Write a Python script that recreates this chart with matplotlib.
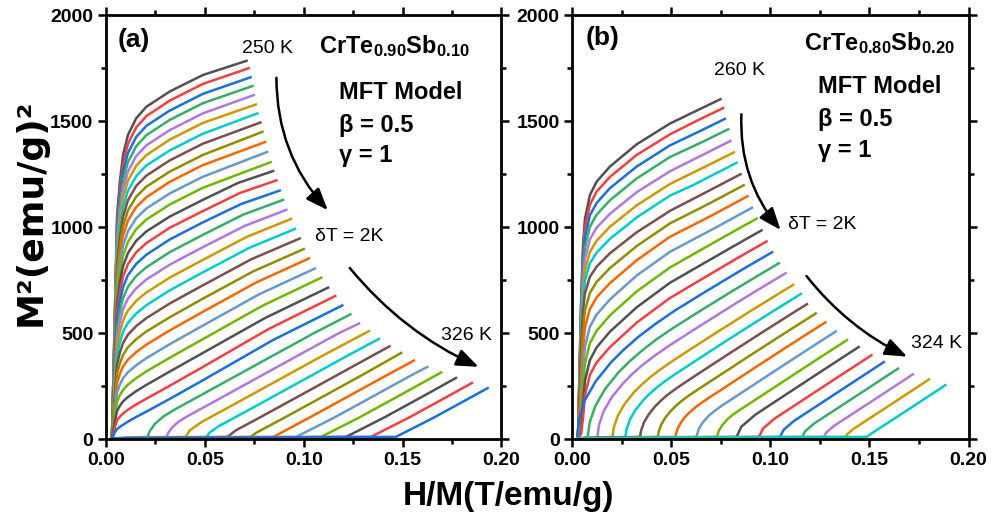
import matplotlib
matplotlib.use("Agg")
import matplotlib.pyplot as plt
from matplotlib.patches import FancyArrowPatch
from matplotlib.ticker import MultipleLocator, FormatStrFormatter

FONT = "Liberation Sans"
plt.rcParams["font.family"] = [FONT, "DejaVu Sans"]
plt.rcParams["mathtext.fontset"] = "custom"
plt.rcParams["mathtext.rm"] = FONT
plt.rcParams["mathtext.bf"] = FONT + ":bold"

# Origin default colour cycle
COLORS = ["#515151", "#F14040", "#1A6FDF", "#37AD6B", "#B177DE", "#CC9900",
          "#00CBCC", "#7D4E4E", "#8E8E00", "#FB6501", "#6699CC", "#6FB802"]

# ---------------- panel (a): CrTe0.90Sb0.10, 250 K ... 326 K ----------------
# low-field part of the ferromagnetic isotherms (shared H/M positions)
A_KNEE_X = [0.003, 0.0045, 0.0056, 0.007, 0.0086, 0.0111, 0.0153, 0.0204, 0.0322]
a_knee_y = [
    [0, 599, 1050, 1212, 1338, 1434, 1513, 1567, 1639],
    [0, 582, 1019, 1176, 1297, 1392, 1470, 1523, 1596],
    [0, 564, 987, 1139, 1257, 1349, 1425, 1477, 1549],
    [0, 547, 955, 1103, 1218, 1306, 1381, 1433, 1505],
    [0, 528, 922, 1065, 1176, 1261, 1335, 1385, 1457],
    [0, 509, 890, 1027, 1135, 1218, 1289, 1339, 1412],
    [0, 490, 855, 988, 1091, 1171, 1240, 1290, 1361],
    [0, 471, 821, 949, 1047, 1126, 1194, 1242, 1314],
    [0, 451, 786, 908, 1002, 1078, 1143, 1190, 1261],
    [0, 431, 750, 867, 958, 1030, 1094, 1140, 1213],
    [0, 410, 713, 824, 911, 980, 1041, 1087, 1158],
    [0, 388, 675, 781, 863, 929, 990, 1035, 1106],
    [0, 366, 636, 737, 814, 877, 935, 979, 1049],
    [0, 345, 598, 692, 765, 825, 881, 924, 996],
    [0, 323, 558, 646, 716, 773, 826, 869, 941],
    [0, 300, 518, 600, 664, 718, 769, 810, 881],
    [0, 276, 477, 552, 612, 662, 711, 752, 822],
    [0, 253, 435, 504, 559, 606, 652, 691, 761],
    [0, 229, 392, 455, 505, 548, 592, 631, 701],
    [0, 205, 350, 407, 452, 492, 533, 570, 639],
    [0, 180, 307, 356, 396, 433, 471, 507, 574],
    [0, 156, 264, 306, 342, 374, 410, 445, 512],
    [0, 131, 220, 256, 286, 315, 348, 381, 447],
    [0, 107, 177, 206, 231, 257, 287, 319, 383],
    [0, 82, 133, 156, 177, 198, 226, 255, 318],
    [0, 56, 89, 105, 120, 138, 163, 190, 251],
    [0, 33, 47, 57, 67, 82, 104, 129, 189],
]
# high-field part (ferro) / whole curve (para)
a_tail_x = [
    [0.049, 0.0711],
    [0.049, 0.0722],
    [0.049, 0.0731],
    [0.049, 0.0741],
    [0.049, 0.0747],
    [0.049, 0.0758],
    [0.049, 0.0766],
    [0.049, 0.0781],
    [0.049, 0.0791],
    [0.049, 0.0805],
    [0.049, 0.0815],
    [0.049, 0.0833],
    [0.049, 0.0668, 0.0845],
    [0.049, 0.0676, 0.0862],
    [0.049, 0.0685, 0.0879],
    [0.049, 0.0693, 0.0896],
    [0.049, 0.0701, 0.0912],
    [0.049, 0.0713, 0.0936],
    [0.049, 0.0723, 0.0956],
    [0.049, 0.0735, 0.0980],
    [0.049, 0.0745, 0.1000],
    [0.049, 0.0759, 0.1027],
    [0.049, 0.0773, 0.1056],
    [0.049, 0.0790, 0.1089],
    [0.049, 0.0807, 0.1123],
    [0.049, 0.0825, 0.1160],
    [0.049, 0.0843, 0.1195],
    [0.003, 0.0211, 0.0220, 0.0246, 0.0290, 0.0351, 0.0467, 0.0662, 0.0857, 0.1053, 0.1236],
    [0.003, 0.0307, 0.0314, 0.0335, 0.0369, 0.0417, 0.0593, 0.0788, 0.0983, 0.1179, 0.1280],
    [0.003, 0.0403, 0.0423, 0.0483, 0.0719, 0.0914, 0.1109, 0.1330],
    [0.003, 0.0509, 0.0524, 0.0569, 0.0649, 0.0845, 0.1040, 0.1235, 0.1380],
    [0.003, 0.0615, 0.0655, 0.0775, 0.0971, 0.1166, 0.1361, 0.1434],
    [0.003, 0.0731, 0.0761, 0.0901, 0.1097, 0.1292, 0.1493],
    [0.003, 0.0847, 0.0867, 0.1027, 0.1223, 0.1418, 0.1557],
    [0.003, 0.0962, 0.1152, 0.1348, 0.1543, 0.1625],
    [0.003, 0.1088, 0.1278, 0.1474, 0.1695],
    [0.003, 0.1214, 0.1404, 0.1600, 0.1770],
    [0.003, 0.1340, 0.1530, 0.1726, 0.1850],
    [0.003, 0.1466, 0.1656, 0.1852, 0.1930],
]
a_tail_y = [
    [1717, 1784],
    [1675, 1749],
    [1628, 1706],
    [1584, 1665],
    [1536, 1622],
    [1491, 1578],
    [1440, 1536],
    [1393, 1493],
    [1340, 1449],
    [1292, 1401],
    [1237, 1354],
    [1185, 1306],
    [1128, 1208, 1264],
    [1075, 1160, 1220],
    [1022, 1109, 1172],
    [963, 1058, 1128],
    [905, 1005, 1081],
    [845, 954, 1038],
    [786, 901, 991],
    [725, 848, 946],
    [662, 791, 896],
    [600, 738, 852],
    [535, 682, 804],
    [471, 628, 761],
    [406, 572, 714],
    [340, 520, 675],
    [277, 466, 630],
    [3, 10, 35, 70, 106, 141, 200, 300, 400, 500, 588],
    [3, 10, 28, 55, 83, 110, 200, 300, 400, 500, 545],
    [3, 10, 40, 80, 200, 300, 400, 509],
    [3, 10, 30, 60, 100, 200, 300, 400, 472],
    [3, 10, 40, 100, 200, 300, 400, 437],
    [3, 10, 30, 100, 200, 300, 406],
    [3, 10, 20, 100, 200, 300, 370],
    [3, 10, 100, 200, 300, 340],
    [3, 10, 100, 200, 314],
    [3, 10, 100, 200, 288],
    [3, 10, 100, 200, 264],
    [3, 10, 100, 200, 240],
]

# ---------------- panel (b): CrTe0.80Sb0.20, 260 K ... ----------------
B_KNEE_X = [0.003, 0.0045, 0.0055, 0.0065, 0.009, 0.0124, 0.0191, 0.0326, 0.0494]
b_knee_y = [
    [0, 625, 906, 1039, 1150, 1214, 1285, 1390, 1488],
    [0, 601, 870, 998, 1105, 1167, 1236, 1340, 1437],
    [0, 572, 829, 951, 1055, 1113, 1183, 1285, 1385],
    [0, 543, 787, 902, 1001, 1058, 1126, 1229, 1330],
    [0, 511, 740, 849, 942, 997, 1062, 1164, 1263],
    [0, 479, 693, 794, 882, 935, 1001, 1102, 1203],
    [0, 449, 650, 745, 829, 879, 944, 1045, 1148],
    [0, 414, 599, 687, 765, 813, 876, 975, 1076],
    [0, 305, 507, 604, 689, 741, 806, 910, 1017],
    [0, 209, 422, 525, 613, 668, 735, 843, 954],
    [0, 96, 326, 434, 529, 587, 658, 771, 883],
    [0, 27, 242, 354, 452, 510, 583, 696, 809],
    [0, 27, 158, 273, 372, 432, 506, 621, 737],
    [0, 27, 93, 205, 302, 361, 433, 549, 665],
]
b_tail_x = [
    [0.0631, 0.0749],
    [0.0627, 0.0762],
    [0.0640, 0.0771],
    [0.0655, 0.0788],
    [0.0680, 0.0799],
    [0.0705, 0.0816],
    [0.0616, 0.0830],
    [0.0647, 0.0850],
    [0.0670, 0.0866],
    [0.0696, 0.0885],
    [0.0730, 0.0908],
    [0.0665, 0.0855, 0.0931],
    [0.0704, 0.0891, 0.0956],
    [0.0647, 0.0828, 0.0981],
    [0.0025, 0.0035, 0.0064, 0.0120, 0.0199, 0.0264, 0.0339, 0.0424, 0.0519, 0.0682, 0.0860, 0.1009],
    [0.003, 0.0079, 0.0089, 0.0118, 0.0166, 0.0234, 0.0290, 0.0354, 0.0427, 0.0509, 0.0639, 0.0812, 0.1043],
    [0.003, 0.0128, 0.0136, 0.0160, 0.0201, 0.0258, 0.0304, 0.0358, 0.0420, 0.0488, 0.0589, 0.0758, 0.0931, 0.1077],
    [0.003, 0.0204, 0.0211, 0.0231, 0.0265, 0.0312, 0.0351, 0.0396, 0.0447, 0.0504, 0.0559, 0.0725, 0.0894, 0.1115],
    [0.003, 0.0269, 0.0275, 0.0292, 0.0320, 0.0359, 0.0392, 0.0429, 0.0472, 0.0519, 0.0674, 0.0840, 0.1009, 0.1154],
    [0.003, 0.0343, 0.0348, 0.0362, 0.0386, 0.0419, 0.0446, 0.0477, 0.0513, 0.0553, 0.0624, 0.0788, 0.0954, 0.1123, 0.1185],
    [0.003, 0.0433, 0.0437, 0.0449, 0.0469, 0.0498, 0.0521, 0.0548, 0.0579, 0.0613, 0.0744, 0.0908, 0.1074, 0.1229],
    [0.003, 0.0522, 0.0525, 0.0536, 0.0552, 0.0576, 0.0596, 0.0618, 0.0644, 0.0672, 0.0863, 0.1027, 0.1193, 0.1278],
    [0.003, 0.0627, 0.0639, 0.0660, 0.0691, 0.0721, 0.0757, 0.0907, 0.1070, 0.1235, 0.1330],
    [0.003, 0.0731, 0.0741, 0.0759, 0.0785, 0.0810, 0.0841, 0.1031, 0.1194, 0.1387],
    [0.003, 0.0830, 0.0854, 0.0925, 0.1063, 0.1226, 0.1390, 0.1446],
    [0.003, 0.0943, 0.0963, 0.1023, 0.1191, 0.1354, 0.1510],
    [0.003, 0.1049, 0.1067, 0.1119, 0.1307, 0.1470, 0.1573],
    [0.003, 0.1161, 0.1176, 0.1221, 0.1429, 0.1592, 0.1644],
    [0.003, 0.1270, 0.1283, 0.1320, 0.1548, 0.1719],
    [0.003, 0.1380, 0.1390, 0.1420, 0.1587, 0.1750, 0.1800],
    [0.003, 0.1487, 0.1507, 0.1714, 0.1883],
]
b_tail_y = [
    [1550, 1603],
    [1500, 1561],
    [1450, 1510],
    [1400, 1461],
    [1350, 1406],
    [1300, 1352],
    [1200, 1303],
    [1150, 1249],
    [1100, 1197],
    [1050, 1145],
    [1000, 1091],
    [900, 1000, 1039],
    [850, 950, 984],
    [750, 850, 932],
    [0, 91, 182, 273, 364, 424, 485, 545, 606, 700, 800, 881],
    [0, 10, 78, 157, 235, 314, 366, 418, 471, 523, 600, 700, 829],
    [3, 10, 66, 132, 198, 263, 307, 351, 395, 439, 500, 600, 700, 782],
    [3, 10, 55, 110, 165, 220, 256, 293, 329, 366, 400, 500, 600, 727],
    [3, 10, 46, 92, 137, 183, 214, 244, 275, 305, 400, 500, 600, 684],
    [3, 10, 38, 77, 115, 154, 179, 205, 230, 256, 300, 400, 500, 600, 636],
    [3, 10, 33, 66, 99, 132, 154, 176, 198, 220, 300, 400, 500, 592],
    [3, 10, 27, 55, 82, 110, 128, 146, 165, 183, 300, 400, 500, 550],
    [3, 10, 47, 79, 111, 134, 158, 250, 350, 450, 507],
    [3, 10, 40, 67, 94, 114, 134, 250, 350, 467],
    [3, 10, 58, 115, 200, 300, 400, 434],
    [3, 10, 49, 97, 200, 300, 395],
    [3, 10, 43, 85, 200, 300, 363],
    [3, 10, 37, 73, 200, 300, 332],
    [3, 10, 31, 61, 200, 305],
    [3, 10, 24, 48, 150, 250, 281],
    [3, 10, 24, 150, 254],
]


def draw_curves(ax, knee_x, knee_y, tail_x, tail_y):
    for i, (tx, ty) in enumerate(zip(tail_x, tail_y)):
        if i < len(knee_y):
            xs, ys = knee_x + tx, knee_y[i] + ty
        else:
            xs, ys = tx, ty
        ax.plot(xs, ys, color=COLORS[i % len(COLORS)], lw=1.8,
                solid_joinstyle="round")


def style_axes(ax):
    ax.set_xlim(0, 0.20)
    ax.set_ylim(0, 2000)
    ax.xaxis.set_major_locator(MultipleLocator(0.05))
    ax.xaxis.set_minor_locator(MultipleLocator(0.025))
    ax.yaxis.set_major_locator(MultipleLocator(500))
    ax.yaxis.set_minor_locator(MultipleLocator(250))
    ax.xaxis.set_major_formatter(FormatStrFormatter("%.2f"))
    for s in ax.spines.values():
        s.set_linewidth(2.0)
    ax.tick_params(which="both", direction="out", top=True, right=True,
                   width=1.8, labelsize=14, pad=3)
    ax.tick_params(which="major", length=6)
    ax.tick_params(which="minor", length=3.5)
    for lab in ax.get_xticklabels() + ax.get_yticklabels():
        lab.set_fontweight("bold")


def arrow(ax, p0, p1, rad):
    ax.add_patch(FancyArrowPatch(p0, p1, connectionstyle=f"arc3,rad={rad}",
                                 arrowstyle="-|>,head_length=0.9,head_width=0.35",
                                 mutation_scale=15, lw=1.8, color="black"))


fig = plt.figure(figsize=(9.95, 5.23), dpi=100)
ax_a = fig.add_axes([0.1065, 0.1606, 0.3975, 0.8107])
ax_b = fig.add_axes([0.5749, 0.1606, 0.3985, 0.8107])

draw_curves(ax_a, A_KNEE_X, a_knee_y, a_tail_x, a_tail_y)
draw_curves(ax_b, B_KNEE_X, b_knee_y, b_tail_x, b_tail_y)
style_axes(ax_a)
style_axes(ax_b)

# panel (a) annotations
ax_a.text(0.0141, 1882, "(a)", fontsize=19, fontweight="bold", ha="center", va="center")
ax_a.text(0.0816, 1844, "250 K", fontsize=14, ha="center", va="center")
ax_a.text(0.1838, 1820, r"$\mathbf{CrTe_{0.90}Sb_{0.10}}$", fontsize=17,
          ha="right", va="baseline")
ax_a.text(0.1178, 1633, "MFT Model", fontsize=17, fontweight="bold", va="center")
ax_a.text(0.1178, 1479, "β = 0.5", fontsize=17, fontweight="bold", va="center")
ax_a.text(0.1178, 1336, "γ = 1", fontsize=17, fontweight="bold", va="center")
ax_a.text(0.1056, 955, "δT = 2K", fontsize=14, va="center")
ax_a.text(0.1823, 488, "326 K", fontsize=14, ha="center", va="center")
arrow(ax_a, (0.0862, 1717), (0.1131, 1070), 0.2)
arrow(ax_a, (0.1224, 817), (0.1897, 335), 0.12)

# panel (b) annotations
ax_b.text(0.0154, 1892, "(b)", fontsize=19, fontweight="bold", ha="center", va="center")
ax_b.text(0.0844, 1738, "260 K", fontsize=14, ha="center", va="center")
ax_b.text(0.1930, 1835, r"$\mathbf{CrTe_{0.80}Sb_{0.20}}$", fontsize=17,
          ha="right", va="baseline")
ax_b.text(0.1239, 1664, "MFT Model", fontsize=17, fontweight="bold", va="center")
ax_b.text(0.1239, 1508, "β = 0.5", fontsize=17, fontweight="bold", va="center")
ax_b.text(0.1239, 1361, "γ = 1", fontsize=17, fontweight="bold", va="center")
ax_b.text(0.1088, 1013, "δT = 2K", fontsize=14, va="center")
ax_b.text(0.1841, 449, "324 K", fontsize=14, ha="center", va="center")
arrow(ax_b, (0.0855, 1545), (0.1061, 976), 0.2)
arrow(ax_b, (0.1174, 779), (0.1703, 383), 0.12)

fig.text(0.511, 0.05, "H/M(T/emu/g)", fontsize=24, fontweight="bold",
         ha="center", va="center")
fig.text(0.031, 0.594, "M²(emu/g)²", fontsize=26, fontweight="bold",
         family=["DejaVu Sans"], ha="center", va="center", rotation=90)

fig.savefig("out.png", dpi=100)
